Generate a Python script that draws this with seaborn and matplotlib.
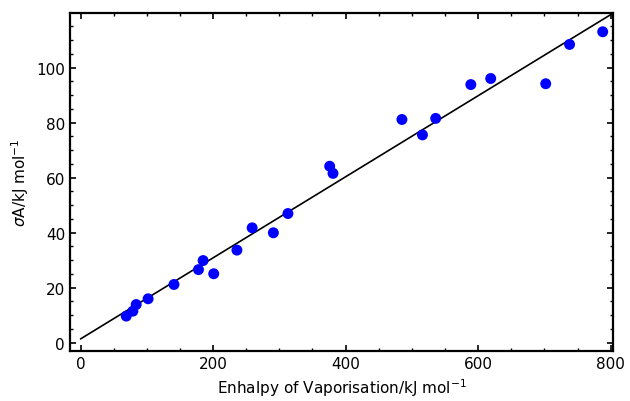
import numpy as np
import pandas as pd
import matplotlib
matplotlib.use("Agg")
import matplotlib.pyplot as plt
from matplotlib.ticker import MultipleLocator
import seaborn as sns

# values
enthalpy = [69, 79, 84, 102, 141, 178, 185, 201, 236, 259, 291, 313,
            376, 381, 485, 516, 536, 589, 619, 702, 738, 788]
sigma_a = [9.6, 11.4, 13.8, 15.9, 21.1, 26.5, 29.8, 25.0, 33.6, 41.7, 39.9, 46.9,
           64.1, 61.5, 81.1, 75.5, 81.5, 93.8, 96.0, 94.1, 108.4, 113.0]

# straight-line fit shown in the reference
fit_intercept = 1.3
fit_slope = 0.1474
fit_x = [0, 820]

data = pd.DataFrame({"enthalpy": enthalpy, "sigma_a": sigma_a})
fit = pd.DataFrame({"x": fit_x})
fit["y"] = fit_intercept + fit_slope * fit["x"]

sns.set_style("ticks")
plt.rcParams["font.family"] = ["DejaVu Sans"]
plt.rcParams["mathtext.fontset"] = "dejavusans"
plt.rcParams["text.color"] = "black"
plt.rcParams["axes.labelcolor"] = "black"

fig = plt.figure(figsize=(6.3, 4.02), dpi=100)
ax = fig.add_axes([0.111, 0.125, 0.8625, 0.84])

sns.lineplot(x="x", y="y", data=fit, ax=ax, color="black", linewidth=1.2)
sns.scatterplot(x="enthalpy", y="sigma_a", data=data, ax=ax, color="#0000ff",
                s=62, edgecolor="none", zorder=3)

ax.set_xlim(-16, 804)
ax.set_ylim(-3.0, 119.8)
ax.xaxis.set_major_locator(MultipleLocator(200))
ax.xaxis.set_minor_locator(MultipleLocator(50))
ax.yaxis.set_major_locator(MultipleLocator(20))
ax.yaxis.set_minor_locator(MultipleLocator(5))
ax.tick_params(which="both", direction="in", top=True, right=True, color="black",
               labelcolor="black", labelsize=11)
ax.tick_params(which="major", length=4, width=1.2)
ax.tick_params(which="minor", length=2.5, width=1.0)

for sp in ax.spines.values():
    sp.set_linewidth(1.6)
    sp.set_color("black")

ax.set_xlabel("Enhalpy of Vaporisation/kJ mol$^{-1}$", fontsize=11, color="black")
ax.set_ylabel(r"$\sigma$A/kJ mol$^{-1}$", fontsize=11, color="black")

plt.savefig("out.png", dpi=100)
